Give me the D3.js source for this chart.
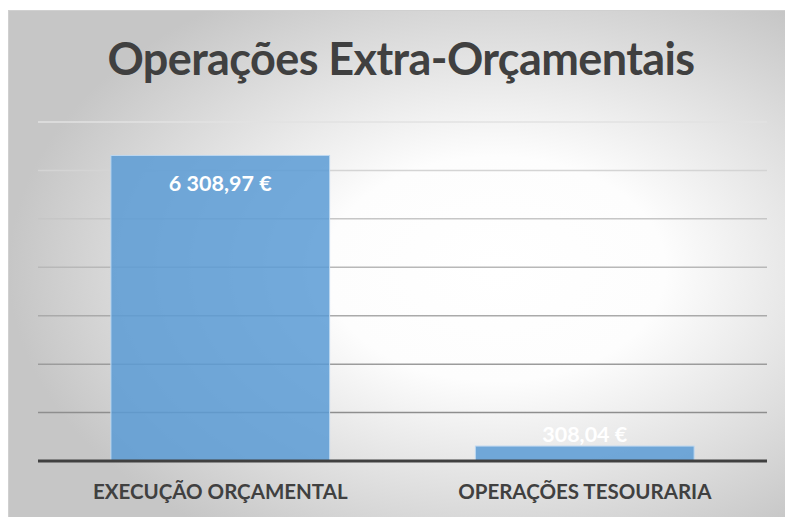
<!DOCTYPE html>
<html lang="pt">
	<head>
		<meta charset="utf-8">
		<title>Operações Extra-Orçamentais</title>
		<script type="text/javascript" src="https://cdn.jsdelivr.net/npm/d3@7"></script>
		<style type="text/css">
			body { margin: 0; background: #fff; }
			text { font-family: Lato, "Open Sans", sans-serif; font-weight: bold; }
		</style>
	</head>
	<body>
		<script type="text/javascript">
			//Data
			var categories = ["EXECUÇÃO ORÇAMENTAL", "OPERAÇÕES TESOURARIA"];
			var values = [6308.97, 308.04];
			var yTicks = [0, 1000, 2000, 3000, 4000, 5000, 6000, 7000];
			var title = "Operações Extra-Orçamentais";

			//Width and height
			var w = 785;
			var h = 517;
			var plot = { left: 38, right: 767, top: 122, bottom: 461 };

			var pt = d3.formatLocale({ decimal: ",", thousands: "\u00a0", grouping: [3], currency: ["", " €"] });
			var fmt = pt.format("$,.2f");

			var xScale = d3.scaleBand()
							.domain(categories)
							.range([plot.left, plot.right])
							.paddingInner(0.4)
							.paddingOuter(0.2);

			var yScale = d3.scaleLinear()
							.domain([0, d3.max(yTicks)])
							.range([plot.bottom, plot.top]);

			//Create SVG element
			var svg = d3.select("body")
						.append("svg")
						.attr("width", w)
						.attr("height", h);

			var defs = svg.append("defs");
			var bg = defs.append("radialGradient")
						.attr("id", "bg")
						.attr("cx", "0.62").attr("cy", "0.5").attr("r", "0.62");
			bg.append("stop").attr("offset", "0").attr("stop-color", "#ffffff");
			bg.append("stop").attr("offset", "0.35").attr("stop-color", "#fdfdfd");
			bg.append("stop").attr("offset", "1").attr("stop-color", "#c6c6c6");

			var gl = defs.append("linearGradient")
						.attr("id", "grid")
						.attr("gradientUnits", "userSpaceOnUse")
						.attr("x1", 0).attr("y1", plot.top).attr("x2", 0).attr("y2", plot.bottom);
			gl.append("stop").attr("offset", "0").attr("stop-color", "#e2e2e2");
			gl.append("stop").attr("offset", "1").attr("stop-color", "#808080");

			//Background
			svg.append("rect")
				.attr("x", 8.5).attr("y", 10.5)
				.attr("width", w).attr("height", h)
				.attr("fill", "url(#bg)")
				.attr("stroke", "#d0d0d0");

			//Title
			svg.append("text")
				.attr("x", 401)
				.attr("y", 75)
				.attr("text-anchor", "middle")
				.attr("font-size", "45px")
				.attr("letter-spacing", "-0.6px")
				.attr("fill", "#404040")
				.text(title);

			//Gridlines
			svg.selectAll("line.grid")
				.data(yTicks.slice(1))
				.enter()
				.append("line")
				.attr("class", "grid")
				.attr("x1", plot.left).attr("x2", plot.right)
				.attr("y1", function(d) { return yScale(d); })
				.attr("y2", function(d) { return yScale(d); })
				.attr("stroke", "url(#grid)")
				.attr("stroke-width", 1.5);

			//Create bars
			svg.selectAll("rect.bar")
				.data(values)
				.enter()
				.append("rect")
				.attr("class", "bar")
				.attr("x", function(d, i) { return xScale(categories[i]); })
				.attr("y", function(d) { return yScale(d); })
				.attr("width", xScale.bandwidth())
				.attr("height", function(d) { return plot.bottom - yScale(d); })
				.attr("fill", "#5b9bd5")
				.attr("fill-opacity", 0.85)
				.attr("stroke", "#bcd7f0")
				.attr("stroke-width", 1);

			//Axis line
			svg.append("line")
				.attr("x1", plot.left).attr("x2", plot.right)
				.attr("y1", yScale(0)).attr("y2", yScale(0))
				.attr("stroke", "#404040")
				.attr("stroke-width", 3);

			//Value labels (inside end, or just above when the bar is too short)
			svg.selectAll("text.value")
				.data(values)
				.enter()
				.append("text")
				.attr("class", "value")
				.attr("x", function(d, i) { return xScale(categories[i]) + xScale.bandwidth() / 2; })
				.attr("y", function(d) {
					var top = yScale(d);
					return (plot.bottom - top) > 40 ? top + 36 : top - 4;
				})
				.attr("text-anchor", "middle")
				.attr("font-size", "21.5px")
				.attr("fill", "#ffffff")
				.text(function(d) { return fmt(d).replace(/\u00a0/g, " "); });

			//Category labels
			svg.selectAll("text.cat")
				.data(categories)
				.enter()
				.append("text")
				.attr("class", "cat")
				.attr("x", function(d) { return xScale(d) + xScale.bandwidth() / 2; })
				.attr("y", 499)
				.attr("text-anchor", "middle")
				.attr("font-size", "20.5px")
				.attr("fill", "#404040")
				.text(function(d) { return d; });
		</script>
	</body>
</html>
